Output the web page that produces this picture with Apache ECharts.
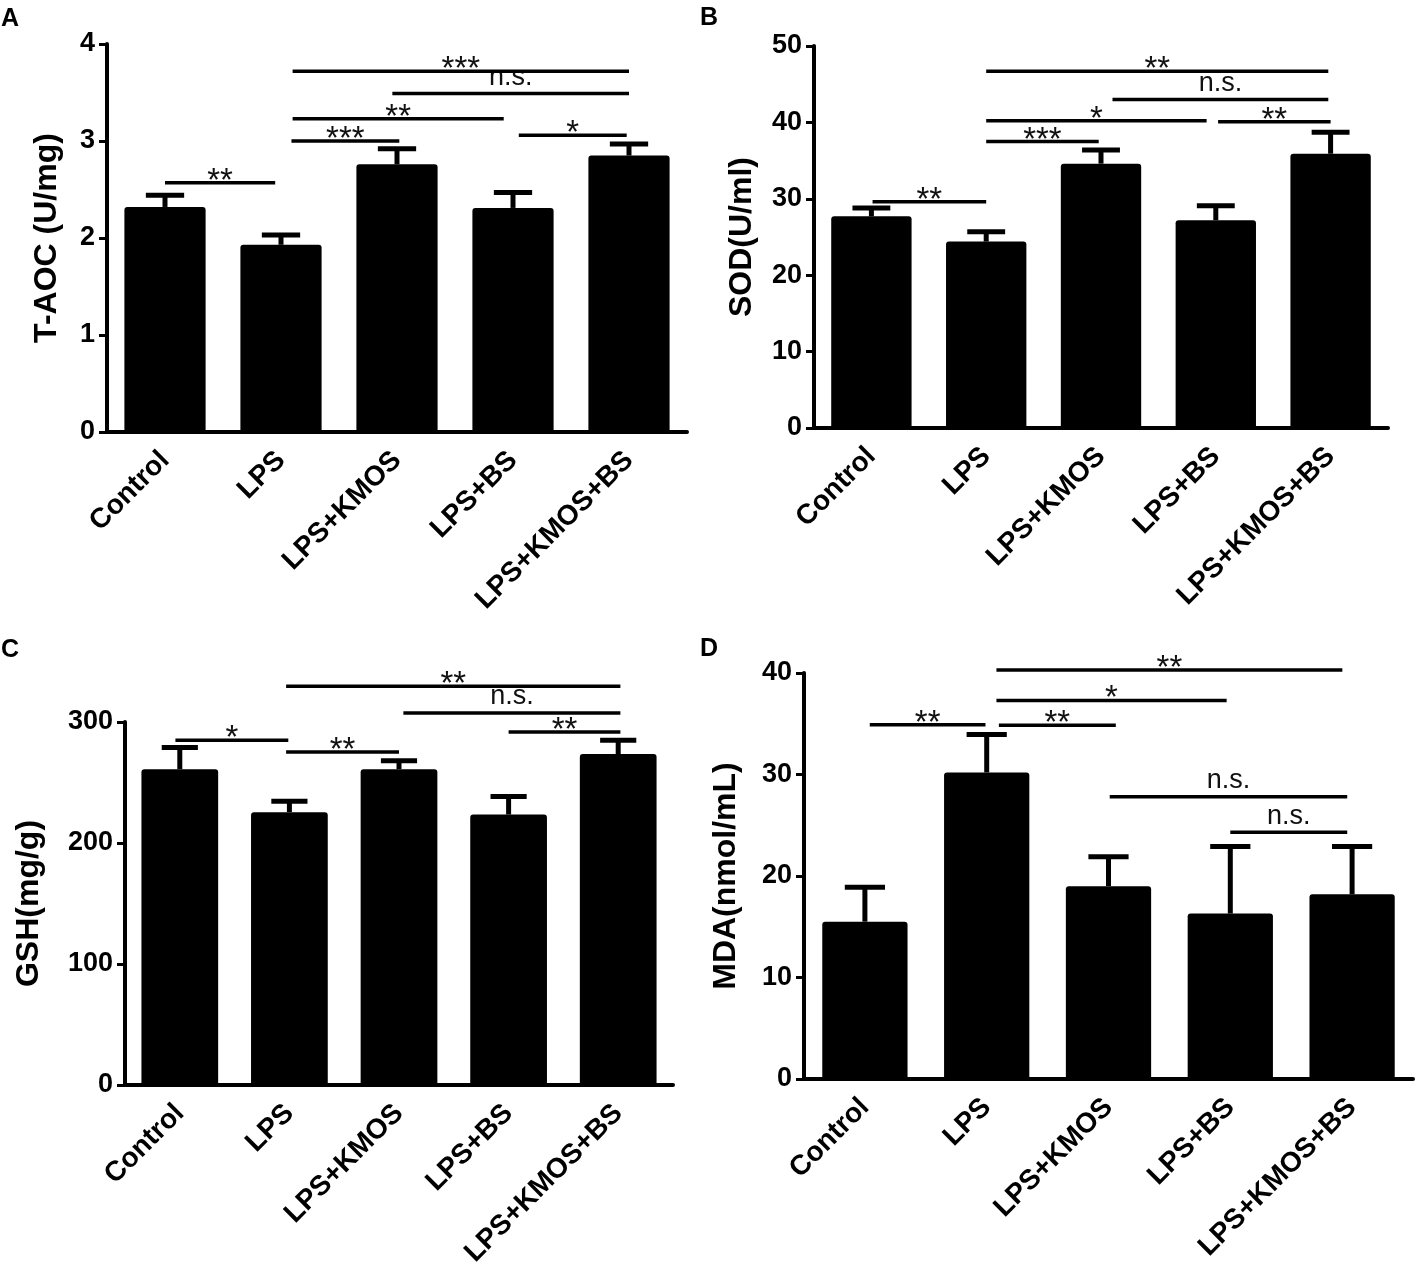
<!DOCTYPE html>
<html lang="en">
<head>
    <meta charset="UTF-8">
    <title>T-AOC / SOD / GSH / MDA</title>
    <style>
        html, body { margin: 0; padding: 0; background: #fff; }
        #main { width: 1417px; height: 1282px; }
    </style>
</head>
<body>
<div id="main"></div>
<script src="https://cdn.jsdelivr.net/npm/echarts@6/dist/echarts.min.js"></script>
<script>
    var categories = ['Control', 'LPS', 'LPS+KMOS', 'LPS+BS', 'LPS+KMOS+BS'];

    // A - T-AOC
    var taocMean = [2.32, 1.93, 2.76, 2.31, 2.85];
    var taocErr = [0.12, 0.10, 0.16, 0.16, 0.12];
    var taocTicks = [0, 1, 2, 3, 4];
    // [from, to, y, text] ; from/to are category positions
    var taocSig = [
        [0, 0.95, 2.57, '**'],
        [1.09, 2.02, 3.0, '***'],
        [1.1, 2.92, 3.23, '**'],
        [1.96, 4.0, 3.49, 'n.s.'],
        [1.1, 4.0, 3.72, '***'],
        [3.05, 3.98, 3.06, '*']
    ];

    // B - SOD
    var sodMean = [27.7, 24.4, 34.6, 27.2, 35.9];
    var sodErr = [1.1, 1.3, 1.8, 1.9, 2.8];
    var sodTicks = [0, 10, 20, 30, 40, 50];
    var sodSig = [
        [0.01, 1.0, 29.6, '**'],
        [1.0, 1.98, 37.5, '***'],
        [1.0, 2.92, 40.2, '*'],
        [3.02, 4.0, 40.1, '**'],
        [2.1, 3.98, 43.0, 'n.s.'],
        [1.0, 3.98, 46.7, '**']
    ];

    // C - GSH
    var gshMean = [261, 225.5, 261, 223.5, 273.5];
    var gshErr = [18, 9, 7, 15, 11.5];
    var gshTicks = [0, 100, 200, 300];
    var gshSig = [
        [-0.04, 0.99, 284.9, '*'],
        [0.97, 2.0, 275.2, '**'],
        [0.97, 4.02, 329.5, '**'],
        [2.04, 4.02, 307.4, 'n.s.'],
        [3.0, 4.02, 291.7, '**']
    ];

    // D - MDA
    var mdaMean = [15.5, 30.2, 19.0, 16.3, 18.2];
    var mdaErr = [3.4, 3.75, 2.9, 6.6, 4.7];
    var mdaTicks = [0, 10, 20, 30, 40];
    var mdaSig = [
        [0.04, 0.99, 34.9, '**'],
        [1.1, 2.06, 34.85, '**'],
        [1.08, 2.97, 37.3, '*'],
        [1.08, 3.92, 40.3, '**'],
        [2.01, 3.96, 27.8, 'n.s.'],
        [3.0, 3.96, 24.3, 'n.s.']
    ];

    var panels = [
        {letter: 'A', name: 'T-AOC (U/mg)', mean: taocMean, err: taocErr, ticks: taocTicks, sig: taocSig,
            grid: {left: 107, top: 44, width: 580, height: 388}, nameGap: 44, lx: 1, ly: 7},
        {letter: 'B', name: 'SOD(U/ml)', mean: sodMean, err: sodErr, ticks: sodTicks, sig: sodSig,
            grid: {left: 814, top: 46, width: 574, height: 382}, nameGap: 56, lx: 700, ly: 6},
        {letter: 'C', name: 'GSH(mg/g)', mean: gshMean, err: gshErr, ticks: gshTicks, sig: gshSig,
            grid: {left: 125, top: 722, width: 548, height: 363}, nameGap: 80, lx: 1, ly: 638},
        {letter: 'D', name: 'MDA(nmol/mL)', mean: mdaMean, err: mdaErr, ticks: mdaTicks, sig: mdaSig,
            grid: {left: 804, top: 673, width: 609, height: 406}, nameGap: 62, lx: 700, ly: 637}
    ];

    var FONT = '"Liberation Sans", Arial, Helvetica, sans-serif';

    function errorItem(params, api) {
        var x = api.value(0);
        var top = api.value(1) + api.value(2);
        var base = api.coord([x, api.value(1)]);
        var tip = api.coord([x, top]);
        var half = api.size([1, 0])[0] * 0.165;
        return {
            type: 'group',
            children: [
                {type: 'line', shape: {x1: base[0], y1: base[1], x2: tip[0], y2: tip[1]},
                    style: {stroke: '#000', lineWidth: 5}},
                {type: 'line', shape: {x1: tip[0] - half, y1: tip[1], x2: tip[0] + half, y2: tip[1]},
                    style: {stroke: '#000', lineWidth: 5}}
            ]
        };
    }

    function sigRenderer(sig) {
        return function (params, api) {
            var s = sig[params.dataIndex];
            var band = api.size([1, 0])[0];
            var c0 = api.coord([0, api.value(1)]);
            var x1 = c0[0] + s[0] * band;
            var x2 = c0[0] + s[1] * band;
            var y = c0[1];
            var isNs = s[3] === 'n.s.';
            return {
                type: 'group',
                children: [
                    {type: 'line', shape: {x1: x1, y1: y, x2: x2, y2: y},
                        style: {stroke: '#000', lineWidth: 3.5}},
                    {type: 'text', x: (x1 + x2) / 2, y: isNs ? y - 16 : y - 1,
                        style: {text: s[3], fill: '#111', align: 'center', verticalAlign: 'middle',
                            font: (isNs ? 'normal 27px ' : 'normal 33px ') + FONT}}
                ]
            };
        };
    }

    var option = {
        animation: false,
        backgroundColor: '#fff',
        title: [],
        grid: [],
        xAxis: [],
        yAxis: [],
        series: []
    };

    panels.forEach(function (p, i) {
        option.title.push({
            text: p.letter, left: p.lx, top: p.ly, padding: 0,
            textStyle: {fontFamily: FONT, fontWeight: 'bold', fontSize: 25, color: '#000'}
        });
        option.grid.push(p.grid);
        option.xAxis.push({
            type: 'category', gridIndex: i, data: categories,
            axisLine: {lineStyle: {color: '#000', width: 4}},
            axisTick: {alignWithLabel: true, length: 9, lineStyle: {color: '#000', width: 3}},
            axisLabel: {interval: 0, rotate: 45, margin: 24, color: '#000',
                fontFamily: FONT, fontWeight: 'bold', fontSize: 28},
            splitLine: {show: false}
        });
        var tks = p.ticks;
        option.yAxis.push({
            type: 'value', gridIndex: i,
            min: tks[0], max: tks[tks.length - 1], interval: tks[1] - tks[0],
            name: p.name, nameLocation: 'middle', nameGap: p.nameGap,
            nameTextStyle: {fontFamily: FONT, fontWeight: 'bold', fontSize: 32, color: '#000'},
            axisLine: {show: true, lineStyle: {color: '#000', width: 4}},
            axisTick: {show: true, length: 8, lineStyle: {color: '#000', width: 3}},
            axisLabel: {margin: 12, color: '#000', fontFamily: FONT, fontWeight: 'bold', fontSize: 27},
            splitLine: {show: false}
        });
        option.series.push({
            type: 'bar', xAxisIndex: i, yAxisIndex: i,
            data: p.mean, barCategoryGap: '30%',
            itemStyle: {color: '#000', borderRadius: [3, 3, 0, 0]},
            z: 2
        });
        option.series.push({
            type: 'custom', xAxisIndex: i, yAxisIndex: i, clip: false, z: 3,
            renderItem: errorItem,
            encode: {x: 0, y: 1},
            data: p.mean.map(function (m, k) { return [k, m, p.err[k]]; })
        });
        option.series.push({
            type: 'custom', xAxisIndex: i, yAxisIndex: i, clip: false, z: 4,
            renderItem: sigRenderer(p.sig),
            encode: {x: 0, y: 1},
            data: p.sig.map(function (s) { return [0, s[2]]; })
        });
    });

    var myChart = echarts.init(document.getElementById('main'));
    myChart.setOption(option);
</script>
</body>
</html>
